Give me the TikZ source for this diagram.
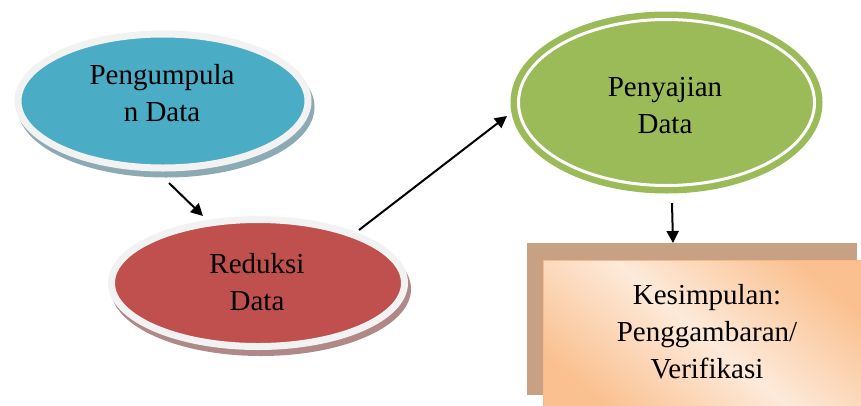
\documentclass[tikz,border=0pt]{standalone}
\usepackage{fontspec}
\setmainfont{Liberation Serif}
\usetikzlibrary{shapes.geometric,arrows.meta}
\definecolor{cblue}{HTML}{4BACC6}
\definecolor{cred}{HTML}{C0504D}
\definecolor{cgreen}{HTML}{9BBB59}
\definecolor{crim}{HTML}{F2F2F2}
\definecolor{cblueshadow}{HTML}{8CAAB4}
\definecolor{credshadow}{HTML}{B08888}
\definecolor{cbrown}{HTML}{C8A083}
\definecolor{cpeach}{HTML}{FDEADA}
\definecolor{corange}{HTML}{FAC08F}
\definecolor{cborder}{HTML}{F6B98A}
\tikzset{
  ovalshape/.style={ellipse, inner sep=0pt, outer sep=0pt},
  rimoval/.style={ovalshape, draw=crim, line width=7pt},
  label/.style={inner sep=0pt, align=center, font=\fontsize{29}{37}\selectfont},
  arrowline/.style={line width=2pt, -{Triangle[length=12pt,width=12pt]}},
  boxrect/.style={rectangle, inner sep=0pt, outer sep=0pt}
}
\begin{document}
\begin{tikzpicture}[x=1pt,y=-1pt]
\useasboundingbox (0,0) rectangle (861,405);
% Pengumpulan Data
\node[ovalshape, fill=cblueshadow, minimum width=297pt, minimum height=141pt] (s1) at (166,107) {};
\node[rimoval, fill=cblue, minimum width=290pt, minimum height=134pt] (e1) at (163,101) {};
\node[label] (t1) at (162,93.5) {Pengumpula\\n Data};
% Reduksi Data
\node[ovalshape, fill=credshadow, minimum width=300pt, minimum height=134pt] (s2) at (261,289) {};
\node[rimoval, fill=cred, minimum width=293pt, minimum height=127pt] (e2) at (258,283) {};
\node[label] (t2) at (257,282.5) {Reduksi\\Data};
% Penyajian Data
\node[ovalshape, fill=cgreen, draw=cgreen, line width=6.5pt, double=white, double distance=3pt, minimum width=296pt, minimum height=166pt] (e3) at (666.5,102.5) {};
\node[label] (t3) at (665,105.5) {Penyajian\\Data};
% Kesimpulan
\node[boxrect, fill=cbrown, minimum width=330pt, minimum height=152pt] (r1) at (692,319) {};
\node[boxrect, draw=cborder, line width=1pt, top color=corange, bottom color=corange, middle color=cpeach, shading angle=-40, minimum width=332pt, minimum height=160pt] (r2) at (709,340) {};
\node[label] (t4) at (707,332) {Kesimpulan:\\Penggambaran/\\Verifikasi};
% arrows
\coordinate (a1s) at (169,183);
\coordinate (a1e) at (203,216);
\coordinate (a2s) at (359,230);
\coordinate (a2e) at (507,116);
\coordinate (a3s) at (672,203);
\coordinate (a3e) at (673,243);
\draw[arrowline] (a1s) -- (a1e);
\draw[arrowline] (a2s) -- (a2e);
\draw[arrowline] (a3s) -- (a3e);
\end{tikzpicture}
\end{document}
